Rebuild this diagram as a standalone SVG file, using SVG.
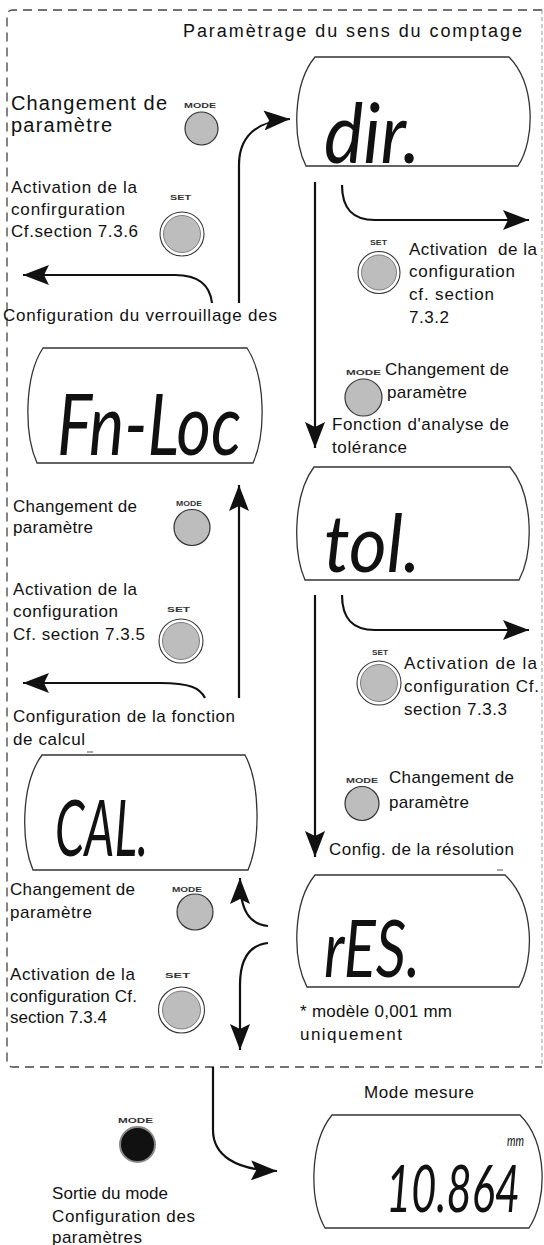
<svg xmlns="http://www.w3.org/2000/svg" width="544" height="1245" viewBox="0 0 544 1245">
<style>
.t{font-family:"Liberation Sans",Arial,sans-serif;font-size:17px;fill:#111}
.big{font-size:20px}
.ttl{font-size:18px}
.lbl{font-family:"Liberation Sans",Arial,sans-serif;font-size:7px;font-weight:bold;fill:#333}
.lcd{font-family:Lato,"DejaVu Sans",sans-serif;font-style:italic;font-weight:400;fill:#111}
.disp{fill:#fff;stroke:#333;stroke-width:1.3}
.ln{fill:none;stroke:#111;stroke-width:2.2}
.mb{fill:#bdbdbd;stroke:#333;stroke-width:1.2}
.so{fill:#fff;stroke:#333;stroke-width:1.1}
.si{fill:#bdbdbd;stroke:#666;stroke-width:0.8}
</style>
<defs>
<marker id="ah" markerUnits="userSpaceOnUse" markerWidth="26" markerHeight="20" refX="26" refY="10" orient="auto">
<path d="M0,0 L26,10 L0,20 L5,10 Z" fill="#111"/>
</marker>
</defs>
<rect width="544" height="1245" fill="#fff"/>
<g id="frame">
<path d="M542,10 H13 Q7,10 7,16 V1061 Q7,1067 13,1067 H542" fill="none" stroke="#444" stroke-width="1.3" stroke-dasharray="9 6"/>
<path d="M542,10 V1067" fill="none" stroke="#999" stroke-width="1" stroke-dasharray="4 3"/>
</g>
<g id="title"><text class="t ttl" x="183" y="37" textLength="339" lengthAdjust="spacing">Paramètrage du sens du comptage</text></g>

<g id="connectors">
<path class="ln" d="M239,303 V165 C239,138 255,121 290,119" marker-end="url(#ah)"/>
<path class="ln" d="M342,185 C342,208 352,220 375,220 H529" marker-end="url(#ah)"/>
<path class="ln" d="M315,182 V448" marker-end="url(#ah)"/>
<path class="ln" d="M212,303 C210,285 198,275 175,275 H23" marker-end="url(#ah)"/>
<path class="ln" d="M342,595 C342,618 352,630 375,630 H529" marker-end="url(#ah)"/>
<path class="ln" d="M315,595 V857" marker-end="url(#ah)"/>
<path class="ln" d="M239,698 V485" marker-end="url(#ah)"/>
<path class="ln" d="M205,698 C200,688 190,683 160,683 H23" marker-end="url(#ah)"/>
<path class="ln" d="M268,926 C250,924 240,912 240,878" marker-end="url(#ah)"/>
<path class="ln" d="M268,943 C250,945 240,958 240,985 V1050" marker-end="url(#ah)"/>
<path class="ln" d="M213,1067 V1130 C213,1155 235,1170 277,1171" marker-end="url(#ah)"/>
</g>

<g id="dir">
<path class="disp" d="M315,57 H509 C535.5,84 535.5,139 518,166 H306 C292.5,139 292.5,84 315,57 Z"/>
<text class="lcd" x="324" y="163" font-size="84" textLength="96" lengthAdjust="spacingAndGlyphs">dir.</text>
</g>
<g id="fnloc">
<path class="disp" d="M43,348 H247 C266,377 266,434 253,463 H37 C24,434 24,377 43,348 Z"/>
<text class="lcd" x="57" y="455" font-size="86" textLength="184" lengthAdjust="spacingAndGlyphs">Fn-Loc</text>
</g>
<g id="tol">
<path class="disp" d="M314,467 H510 C533.8,495 533.8,552 519,580 H305 C292.8,552 292.8,495 314,467 Z"/>
<text class="lcd" x="324" y="572" font-size="80" textLength="96" lengthAdjust="spacingAndGlyphs">tol.</text>
</g>
<g id="cal">
<path class="disp" d="M42,755 H245 C260.5,784 260.5,841 248,870 H33 C20.8,841 20.8,784 42,755 Z"/>
<path d="M87,752 H93" stroke="#555" stroke-width="1"/>
<text class="lcd" x="55" y="856" font-size="78" textLength="93" lengthAdjust="spacingAndGlyphs">CAL.</text>
</g>
<g id="res">
<path class="disp" d="M315,875 H505 C534.7,903 534.7,959 519,987 H307 C292.3,959 292.3,903 315,875 Z"/>
<path d="M497,870 H503" stroke="#555" stroke-width="1"/>
<text class="lcd" x="324" y="977" font-size="80" textLength="96" lengthAdjust="spacingAndGlyphs">rES.</text>
</g>
<g id="mesure">
<path class="disp" d="M332,1115 H520 C547.8,1143 547.8,1200 529,1228 H325 C309.2,1200 309.2,1143 332,1115 Z"/>
<text class="lcd" x="507" y="1146" font-size="15" textLength="17" lengthAdjust="spacingAndGlyphs">mm</text>
<text class="lcd" transform="translate(386,1212) scale(1,1.65)" x="0" y="0" font-size="40" textLength="134" lengthAdjust="spacingAndGlyphs">10.864</text>
</g>

<g id="btn-mode1"><text class="lbl" x="184" y="108" textLength="32" lengthAdjust="spacingAndGlyphs">MODE</text><circle class="mb" cx="201.5" cy="128.5" r="16.5"/></g>
<g id="btn-set1"><text class="lbl" x="170" y="200" textLength="21" lengthAdjust="spacingAndGlyphs">SET</text><circle class="so" cx="182" cy="234" r="22"/><circle class="si" cx="182" cy="234" r="18.5"/></g>
<g id="btn-set2"><text class="lbl" x="370" y="245" textLength="17" lengthAdjust="spacingAndGlyphs">SET</text><circle class="so" cx="379" cy="272.5" r="21"/><circle class="si" cx="379" cy="272.5" r="17.5"/></g>
<g id="btn-mode2"><text class="lbl" x="346" y="375" textLength="35" lengthAdjust="spacingAndGlyphs">MODE</text><circle class="mb" cx="363.5" cy="397.5" r="18.5"/></g>
<g id="btn-mode3"><text class="lbl" x="176" y="506" textLength="26" lengthAdjust="spacingAndGlyphs">MODE</text><circle class="mb" cx="192" cy="527.5" r="18"/></g>
<g id="btn-set3"><text class="lbl" x="167" y="612" textLength="23" lengthAdjust="spacingAndGlyphs">SET</text><circle class="so" cx="181" cy="641" r="22"/><circle class="si" cx="181" cy="641" r="18.5"/></g>
<g id="btn-set4"><text class="lbl" x="372" y="655" textLength="16" lengthAdjust="spacingAndGlyphs">SET</text><circle class="so" cx="379" cy="683" r="22"/><circle class="si" cx="379" cy="683" r="18.5"/></g>
<g id="btn-mode4"><text class="lbl" x="346" y="783" textLength="32" lengthAdjust="spacingAndGlyphs">MODE</text><circle class="mb" cx="362" cy="803.5" r="17"/></g>
<g id="btn-mode5"><text class="lbl" x="172" y="892" textLength="30" lengthAdjust="spacingAndGlyphs">MODE</text><circle class="mb" cx="195" cy="912" r="18"/></g>
<g id="btn-set5"><text class="lbl" x="165" y="978" textLength="25" lengthAdjust="spacingAndGlyphs">SET</text><circle class="so" cx="181.5" cy="1010" r="23"/><circle class="si" cx="181.5" cy="1010" r="19"/></g>
<g id="btn-mode6"><text class="lbl" x="118" y="1123" textLength="35" lengthAdjust="spacingAndGlyphs">MODE</text><circle cx="137.5" cy="1144.5" r="17.5" fill="#111" stroke="#888" stroke-width="2"/></g>

<g id="texts-left">
<text class="t big" x="11" y="110" textLength="156" lengthAdjust="spacing">Changement de</text>
<text class="t big" x="11" y="132" textLength="101" lengthAdjust="spacing">paramètre</text>
<text class="t" x="11" y="193" textLength="126" lengthAdjust="spacing">Activation de la</text>
<text class="t" x="11" y="215" textLength="114" lengthAdjust="spacing">confirguration</text>
<text class="t" x="11" y="237" textLength="127" lengthAdjust="spacing">Cf.section 7.3.6</text>
<text class="t" x="3" y="321" textLength="274" lengthAdjust="spacing">Configuration du verrouillage des</text>
<text class="t" x="13" y="512" textLength="124" lengthAdjust="spacing">Changement de</text>
<text class="t" x="13" y="533" textLength="80" lengthAdjust="spacing">paramètre</text>
<text class="t" x="13" y="595" textLength="124" lengthAdjust="spacing">Activation de la</text>
<text class="t" x="13" y="617" textLength="105" lengthAdjust="spacing">configuration</text>
<text class="t" x="13" y="640" textLength="132" lengthAdjust="spacing">Cf. section 7.3.5</text>
<text class="t" x="13" y="722" textLength="222" lengthAdjust="spacing">Configuration de la fonction</text>
<text class="t" x="13" y="745" textLength="72" lengthAdjust="spacing">de calcul</text>
<text class="t" x="10" y="895" textLength="125" lengthAdjust="spacing">Changement de</text>
<text class="t" x="10" y="918" textLength="82" lengthAdjust="spacing">paramètre</text>
<text class="t" x="10" y="980" textLength="125" lengthAdjust="spacing">Activation de la</text>
<text class="t" x="10" y="1002" textLength="127" lengthAdjust="spacing">configuration Cf.</text>
<text class="t" x="10" y="1023" textLength="97" lengthAdjust="spacing">section 7.3.4</text>
<text class="t" x="52" y="1199" textLength="116" lengthAdjust="spacing">Sortie du mode</text>
<text class="t" x="52" y="1222" textLength="143" lengthAdjust="spacing">Configuration des</text>
<text class="t" x="52" y="1243" textLength="90" lengthAdjust="spacing">paramètres</text>
</g>
<g id="texts-right">
<text class="t" x="409" y="255" textLength="128" lengthAdjust="spacing" xml:space="preserve">Activation  de la</text>
<text class="t" x="409" y="277" textLength="106" lengthAdjust="spacing">configuration</text>
<text class="t" x="409" y="300" textLength="85" lengthAdjust="spacing">cf. section</text>
<text class="t" x="409" y="323" textLength="40" lengthAdjust="spacing">7.3.2</text>
<text class="t" x="385" y="375" textLength="124" lengthAdjust="spacing">Changement de</text>
<text class="t" x="387" y="398" textLength="80" lengthAdjust="spacing">paramètre</text>
<text class="t" x="332" y="430" textLength="177" lengthAdjust="spacing">Fonction d'analyse de</text>
<text class="t" x="332" y="453" textLength="75" lengthAdjust="spacing">tolérance</text>
<text class="t" x="404" y="669" textLength="133" lengthAdjust="spacing">Activation de la</text>
<text class="t" x="404" y="692" textLength="135" lengthAdjust="spacing">configuration Cf.</text>
<text class="t" x="404" y="715" textLength="103" lengthAdjust="spacing">section 7.3.3</text>
<text class="t" x="389" y="783" textLength="125" lengthAdjust="spacing">Changement de</text>
<text class="t" x="389" y="808" textLength="80" lengthAdjust="spacing">paramètre</text>
<text class="t" x="329" y="855" textLength="185" lengthAdjust="spacing">Config. de la résolution</text>
<text class="t" x="300" y="1017" textLength="152" lengthAdjust="spacing">* modèle 0,001 mm</text>
<text class="t" x="300" y="1040" textLength="102" lengthAdjust="spacing">uniquement</text>
<text class="t" x="364" y="1098" textLength="110" lengthAdjust="spacing">Mode mesure</text>
</g>
</svg>
